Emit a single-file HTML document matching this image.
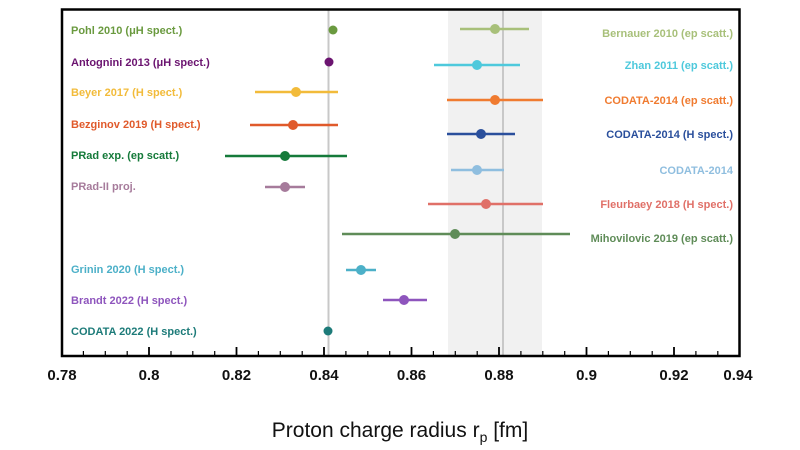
<!DOCTYPE html>
<html><head><meta charset="utf-8"><style>
html,body{margin:0;padding:0;background:#fff;}
svg{display:block;}
text{font-family:"Liberation Sans","DejaVu Sans",sans-serif;}
.l{font-size:11px;font-weight:bold;}
</style></head><body>
<svg width="800" height="450" viewBox="0 0 800 450" xmlns="http://www.w3.org/2000/svg">
<rect x="448" y="10" width="94" height="346" fill="#f1f1f1"/>
<line x1="328.5" y1="10" x2="328.5" y2="356" stroke="#c8c8c8" stroke-width="2"/>
<line x1="503" y1="10" x2="503" y2="356" stroke="#c8c8c8" stroke-width="2"/>
<g stroke="#000" stroke-width="1.2">
<line x1="83.4" y1="356" x2="83.4" y2="351"/><line x1="105.3" y1="356" x2="105.3" y2="351"/><line x1="127.2" y1="356" x2="127.2" y2="351"/>
<line x1="149" y1="356" x2="149" y2="347" stroke-width="1.8"/>
<line x1="171" y1="356" x2="171" y2="351"/><line x1="192.8" y1="356" x2="192.8" y2="351"/><line x1="214.7" y1="356" x2="214.7" y2="351"/>
<line x1="236.5" y1="356" x2="236.5" y2="347" stroke-width="1.8"/>
<line x1="258.4" y1="356" x2="258.4" y2="351"/><line x1="280.3" y1="356" x2="280.3" y2="351"/><line x1="302.2" y1="356" x2="302.2" y2="351"/>
<line x1="324" y1="356" x2="324" y2="347" stroke-width="1.8"/>
<line x1="345.9" y1="356" x2="345.9" y2="351"/><line x1="367.8" y1="356" x2="367.8" y2="351"/><line x1="389.7" y1="356" x2="389.7" y2="351"/>
<line x1="411.5" y1="356" x2="411.5" y2="347" stroke-width="1.8"/>
<line x1="433.4" y1="356" x2="433.4" y2="351"/><line x1="455.3" y1="356" x2="455.3" y2="351"/><line x1="477.2" y1="356" x2="477.2" y2="351"/>
<line x1="499" y1="356" x2="499" y2="347" stroke-width="1.8"/>
<line x1="520.9" y1="356" x2="520.9" y2="351"/><line x1="542.8" y1="356" x2="542.8" y2="351"/><line x1="564.7" y1="356" x2="564.7" y2="351"/>
<line x1="586.5" y1="356" x2="586.5" y2="347" stroke-width="1.8"/>
<line x1="608.4" y1="356" x2="608.4" y2="351"/><line x1="630.3" y1="356" x2="630.3" y2="351"/><line x1="652.2" y1="356" x2="652.2" y2="351"/>
<line x1="674" y1="356" x2="674" y2="347" stroke-width="1.8"/>
<line x1="695.9" y1="356" x2="695.9" y2="351"/><line x1="717.8" y1="356" x2="717.8" y2="351"/>
</g>
<rect x="62" y="9.5" width="677.5" height="346.5" fill="none" stroke="#000" stroke-width="2.5"/>
<g font-size="15" font-weight="bold" text-anchor="middle" fill="#111">
<text x="62" y="380">0.78</text><text x="149" y="380">0.8</text><text x="236.5" y="380">0.82</text><text x="324" y="380">0.84</text>
<text x="411.5" y="380">0.86</text><text x="499" y="380">0.88</text><text x="586.5" y="380">0.9</text><text x="674" y="380">0.92</text><text x="738" y="380">0.94</text>
</g>
<text x="400" y="437" font-size="21" text-anchor="middle" fill="#111">Proton charge radius r<tspan font-size="14" dy="5">p</tspan><tspan dy="-5"> [fm]</tspan></text>

<g stroke-width="2.5">
<circle cx="333" cy="30" r="4.5" fill="#6a9a3f"/>
<circle cx="329" cy="62" r="4.5" fill="#6b1470"/>
<line x1="255" y1="92" x2="338" y2="92" stroke="#f2bb3a"/><circle cx="296" cy="92" r="5" fill="#f2bb3a"/>
<line x1="250" y1="125" x2="338" y2="125" stroke="#e05a2b"/><circle cx="293" cy="125" r="5" fill="#e05a2b"/>
<line x1="225" y1="156" x2="347" y2="156" stroke="#157a3a"/><circle cx="285" cy="156" r="5" fill="#157a3a"/>
<line x1="265" y1="187" x2="305" y2="187" stroke="#a67b9b"/><circle cx="285" cy="187" r="5" fill="#a67b9b"/>
<line x1="346" y1="270" x2="376" y2="270" stroke="#4cb0c8"/><circle cx="361" cy="270" r="5" fill="#4cb0c8"/>
<line x1="383" y1="300" x2="427" y2="300" stroke="#8e55bd"/><circle cx="404" cy="300" r="5" fill="#8e55bd"/>
<circle cx="328" cy="331" r="4.5" fill="#1d7b79"/>
<line x1="460" y1="29" x2="529" y2="29" stroke="#a8c07a"/><circle cx="495" cy="29" r="5" fill="#a8c07a"/>
<line x1="434" y1="65" x2="520" y2="65" stroke="#4ec9dc"/><circle cx="477" cy="65" r="5" fill="#4ec9dc"/>
<line x1="447" y1="100" x2="543" y2="100" stroke="#f07b30"/><circle cx="495" cy="100" r="5" fill="#f07b30"/>
<line x1="447" y1="134" x2="515" y2="134" stroke="#2a4f9c"/><circle cx="481" cy="134" r="5" fill="#2a4f9c"/>
<line x1="451" y1="170" x2="504" y2="170" stroke="#8fbedf"/><circle cx="477" cy="170" r="5" fill="#8fbedf"/>
<line x1="428" y1="204" x2="543" y2="204" stroke="#e07068"/><circle cx="486" cy="204" r="5" fill="#e07068"/>
<line x1="342" y1="234" x2="570" y2="234" stroke="#5f8c58"/><circle cx="455" cy="234" r="5" fill="#5f8c58"/>
</g>

<g class="l">
<text x="71" y="34" fill="#6a9a3f">Pohl 2010 (μH spect.)</text>
<text x="71" y="66" fill="#6b1470">Antognini 2013 (μH spect.)</text>
<text x="71" y="96" fill="#f2bb3a">Beyer 2017 (H spect.)</text>
<text x="71" y="128" fill="#e05a2b">Bezginov 2019 (H spect.)</text>
<text x="71" y="159" fill="#157a3a">PRad exp. (ep scatt.)</text>
<text x="71" y="190" fill="#a67b9b">PRad-II proj.</text>
<text x="71" y="273" fill="#4cb0c8">Grinin 2020 (H spect.)</text>
<text x="71" y="304" fill="#8e55bd">Brandt 2022 (H spect.)</text>
<text x="71" y="335" fill="#1d7b79">CODATA 2022 (H spect.)</text>
</g>
<g class="l" text-anchor="end">
<text x="733" y="37" fill="#a8c07a">Bernauer 2010 (ep scatt.)</text>
<text x="733" y="69" fill="#4ec9dc">Zhan 2011 (ep scatt.)</text>
<text x="733" y="104" fill="#f07b30">CODATA-2014 (ep scatt.)</text>
<text x="733" y="138" fill="#2a4f9c">CODATA-2014 (H spect.)</text>
<text x="733" y="174" fill="#8fbedf">CODATA-2014</text>
<text x="733" y="208" fill="#e07068">Fleurbaey 2018 (H spect.)</text>
<text x="733" y="242" fill="#5f8c58">Mihovilovic 2019 (ep scatt.)</text>
</g>
</svg>
</body></html>
